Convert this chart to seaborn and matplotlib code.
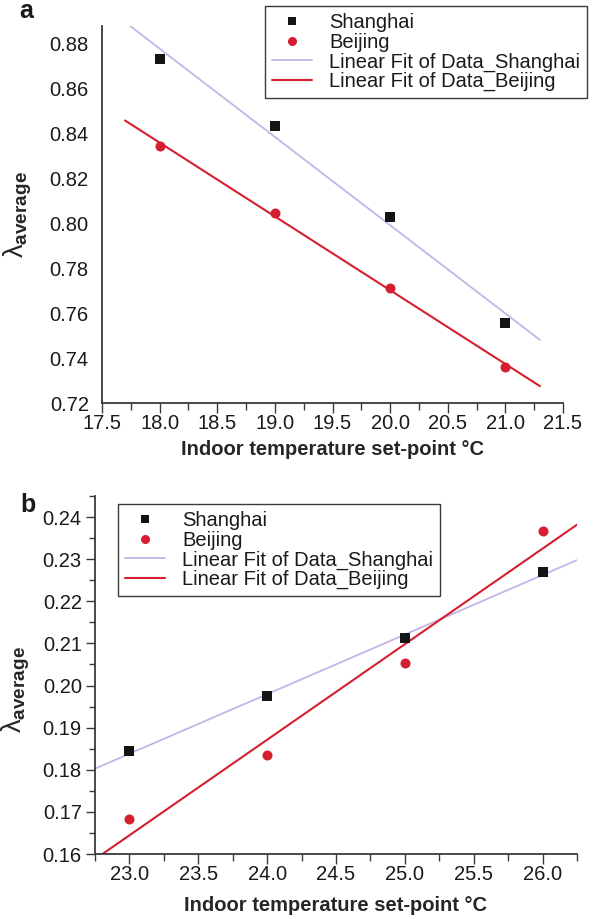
import numpy as np
import pandas as pd
import matplotlib
matplotlib.use("Agg")
import matplotlib.pyplot as plt
import seaborn as sns
from matplotlib.ticker import MultipleLocator, FormatStrFormatter
from matplotlib.lines import Line2D

# Heating season (a): set-point temperature vs. average lambda
temp_a = [18.0, 19.0, 20.0, 21.0]
shanghai_a = [0.8734, 0.8435, 0.8029, 0.7558]
beijing_a = [0.8346, 0.8048, 0.7712, 0.7362]

# Cooling season (b)
temp_b = [23.0, 24.0, 25.0, 26.0]
shanghai_b = [0.1844, 0.1975, 0.2112, 0.2270]
beijing_b = [0.1683, 0.1836, 0.2053, 0.2367]

cities = ["Shanghai", "Beijing"]
fit_labels = ["Linear Fit of Data_Shanghai", "Linear Fit of Data_Beijing"]

SQ_COLOR = "#141414"
RED = "#d51f2e"
LAVENDER = "#c5b4e8"
AXIS_COLOR = "#3a3a3a"

sns.set_theme(style="white")
plt.rcParams["font.family"] = ["Liberation Sans", "DejaVu Sans"]
plt.rcParams["mathtext.fontset"] = "custom"
plt.rcParams["mathtext.rm"] = "Liberation Sans"
plt.rcParams["mathtext.it"] = "Liberation Sans:italic"
plt.rcParams["mathtext.bf"] = "Liberation Sans:bold"
plt.rcParams["text.color"] = "#1a1a1a"

W, H = 596, 919
fig = plt.figure(figsize=(W / 100, H / 100), dpi=100)


def add_axes_px(left, top, right, bottom):
    return fig.add_axes([left / W, 1 - bottom / H, (right - left) / W, (bottom - top) / H])


def fit_frame(x, y, x_range):
    slope, intercept = np.polyfit(x, y, 1)
    xs = np.array(x_range)
    return pd.DataFrame({"x": xs, "y": slope * xs + intercept})


def draw_panel(ax, temps, sh, bj, x_range):
    sns.lineplot(data=fit_frame(temps, sh, x_range), x="x", y="y", ax=ax,
                 color=LAVENDER, lw=1.3, zorder=2)
    sns.lineplot(data=fit_frame(temps, bj, x_range), x="x", y="y", ax=ax,
                 color=RED, lw=1.5, zorder=2)
    pts = pd.DataFrame({"x": temps * 2, "y": sh + bj,
                        "city": [cities[0]] * len(temps) + [cities[1]] * len(temps)})
    sns.scatterplot(data=pts[pts.city == "Shanghai"], x="x", y="y", ax=ax,
                    marker="s", s=48, color=SQ_COLOR, linewidth=0, zorder=3)
    sns.scatterplot(data=pts[pts.city == "Beijing"], x="x", y="y", ax=ax,
                    marker="o", s=52, color=RED, linewidth=0, zorder=3)
    for side in ("top", "right"):
        ax.spines[side].set_visible(False)
    for side in ("left", "bottom"):
        ax.spines[side].set_color(AXIS_COLOR)
        ax.spines[side].set_linewidth(1.3)
    ax.xaxis.set_major_locator(MultipleLocator(0.5))
    ax.xaxis.set_minor_locator(MultipleLocator(0.25))
    ax.xaxis.set_major_formatter(FormatStrFormatter("%.1f"))
    ax.tick_params(axis="x", which="major", direction="out", length=7, width=1.0,
                   color=AXIS_COLOR, labelsize=14.5, pad=1, bottom=True, labelcolor="#1a1a1a")
    ax.tick_params(axis="x", which="minor", direction="out", length=4.8, width=1.0,
                   color=AXIS_COLOR, bottom=True)
    ax.set_xlabel("Indoor temperature set-point °C", fontsize=14.5, fontweight="bold")
    ax.set_ylabel("λ$_{\\mathbf{average}}$", fontsize=19.5)
    ax.grid(False)
    ax.set_facecolor("white")


def add_legend(ax, left_px, top_px):
    handles = [
        Line2D([], [], ls="none", marker="s", ms=6, color=SQ_COLOR, mew=0),
        Line2D([], [], ls="none", marker="o", ms=6.5, color=RED, mew=0),
        Line2D([], [], color=LAVENDER, lw=1.3),
        Line2D([], [], color=RED, lw=1.5),
    ]
    leg = ax.legend(handles, cities + fit_labels, loc="upper left",
                    bbox_to_anchor=(left_px / W, 1 - top_px / H),
                    bbox_transform=fig.transFigure, borderaxespad=0,
                    fontsize=14.5, frameon=True, fancybox=False, framealpha=1,
                    edgecolor="#3a3a3a", borderpad=0.35, labelspacing=0.03,
                    handlelength=2.0, handletextpad=0.85)
    leg.get_frame().set_linewidth(1.0)
    leg.set_zorder(5)
    return leg


# Panel a
ax_a = add_axes_px(102, 26, 563, 403)
draw_panel(ax_a, temp_a, shanghai_a, beijing_a, [17.7, 21.3])
ax_a.set_xlim(17.5, 21.5)
ax_a.set_ylim(0.72, 0.888)
ax_a.yaxis.set_major_locator(MultipleLocator(0.02))
ax_a.yaxis.set_major_formatter(FormatStrFormatter("%.2f"))
ax_a.tick_params(axis="y", which="both", length=0, labelsize=14.5, pad=9.5, labelcolor="#1a1a1a")
ax_a.xaxis.set_label_coords(0.5, -0.098)
ax_a.yaxis.set_label_coords(-0.148, 0.5)
add_legend(ax_a, 265, 6)

# Panel b
ax_b = add_axes_px(95, 496, 577, 854)
draw_panel(ax_b, temp_b, shanghai_b, beijing_b, [22.75, 26.25])
ax_b.set_xlim(22.75, 26.25)
ax_b.set_ylim(0.16, 0.245)
ax_b.yaxis.set_major_locator(MultipleLocator(0.01))
ax_b.yaxis.set_minor_locator(MultipleLocator(0.005))
ax_b.yaxis.set_major_formatter(FormatStrFormatter("%.2f"))
ax_b.tick_params(axis="y", which="major", direction="out", length=6.5, width=1.0,
                 color=AXIS_COLOR, labelsize=14.5, pad=3, left=True, labelcolor="#1a1a1a")
ax_b.tick_params(axis="y", which="minor", direction="out", length=4.2, width=1.0,
                 color=AXIS_COLOR, left=True)
ax_b.xaxis.set_label_coords(0.5, -0.118)
ax_b.yaxis.set_label_coords(-0.13, 0.46)
add_legend(ax_b, 118, 504)

# Panel letters
fig.text(19 / W, 1 - 18 / H, "a", fontsize=18, fontweight="bold", ha="left", va="baseline")
fig.text(20 / W, 1 - 512 / H, "b", fontsize=18, fontweight="bold", ha="left", va="baseline")

fig.savefig("out.png", dpi=100, facecolor="white")
